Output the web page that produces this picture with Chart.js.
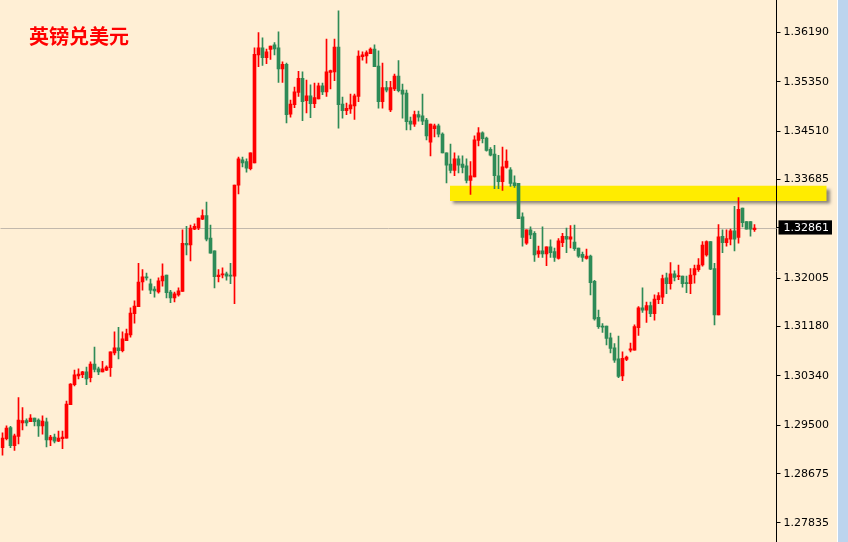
<!DOCTYPE html>
<html>
<head>
<meta charset="utf-8">
<script src="https://cdn.jsdelivr.net/npm/chart.js@4.4.1/dist/chart.umd.min.js"></script>
<style>
  html, body { margin: 0; padding: 0; background: #FFEFD5; }
  #wrap { position: relative; width: 848px; height: 542px; }
  canvas { display: block; }
  #title {
    position: absolute; left: 29px; top: 26px;
    font-family: "Noto Sans CJK SC", sans-serif; font-weight: bold;
    font-size: 20px; line-height: 20px; color: #FF0000;
  }
</style>
</head>
<body>
<div id="wrap">
  <canvas id="chart" width="848" height="542"></canvas>
  <div id="title">英镑兑美元</div>
</div>
<script>
// GBP/USD candles, oldest first
var opens = [
  1.2912, 1.2927, 1.2946, 1.2915, 1.2931, 1.2954, 1.2958, 1.2956, 1.2962, 1.2959,
  1.2949, 1.2956, 1.2925, 1.2930, 1.2923, 1.2927, 1.2928, 1.2985, 1.3019, 1.3034,
  1.3036, 1.3041, 1.3031, 1.3054, 1.3046, 1.3041, 1.3044, 1.3048, 1.3073, 1.3082,
  1.3077, 1.3094, 1.3104, 1.3140, 1.3152, 1.3194, 1.3203, 1.3191, 1.3182, 1.3177,
  1.3196, 1.3206, 1.3177, 1.3167, 1.3172, 1.3178, 1.3260, 1.3257, 1.3284, 1.3286,
  1.3301, 1.3307, 1.3269, 1.3247, 1.3203, 1.3206, 1.3208, 1.3206, 1.3204, 1.3359,
  1.3402, 1.3399, 1.3387, 1.3397, 1.3581, 1.3593, 1.3576, 1.3590, 1.3598, 1.3593,
  1.3557, 1.3565, 1.3480, 1.3496, 1.3517, 1.3541, 1.3503, 1.3511, 1.3498, 1.3506,
  1.3528, 1.3518, 1.3551, 1.3552, 1.3594, 1.3497, 1.3486, 1.3489, 1.3494, 1.3510,
  1.3578, 1.3579, 1.3583, 1.3591, 1.3562, 1.3501, 1.3525, 1.3487, 1.3523, 1.3545,
  1.3521, 1.3516, 1.3468, 1.3463, 1.3479, 1.3477, 1.3470, 1.3432, 1.3455, 1.3460,
  1.3446, 1.3414, 1.3395, 1.3384, 1.3404, 1.3395, 1.3392, 1.3367, 1.3373, 1.3435,
  1.3448, 1.3439, 1.3420, 1.3412, 1.3375, 1.3365, 1.3389, 1.3385, 1.3363, 1.3362,
  1.3305, 1.3260, 1.3283, 1.3277, 1.3242, 1.3247, 1.3242, 1.3254, 1.3246, 1.3234,
  1.3261, 1.3272, 1.3267, 1.3262, 1.3252, 1.3241, 1.3234, 1.3238, 1.3195, 1.3134,
  1.3119, 1.3119, 1.3099, 1.3082, 1.3063, 1.3034, 1.3062, 1.3078, 1.3078, 1.3116,
  1.3150, 1.3146, 1.3154, 1.3140, 1.3164, 1.3168, 1.3201, 1.3191, 1.3208, 1.3203,
  1.3204, 1.3193, 1.3191, 1.3206, 1.3215, 1.3223, 1.3240, 1.3263, 1.3217, 1.3138,
  1.3272, 1.3261, 1.3267, 1.3281, 1.3270, 1.3320, 1.3297, 1.3297, 1.3283
]
var highs = [
  1.2937, 1.2949, 1.2948, 1.2935, 1.2997, 1.2980, 1.2961, 1.2968, 1.2962, 1.2961,
  1.2966, 1.2962, 1.2933, 1.2935, 1.2940, 1.2940, 1.2991, 1.3021, 1.3044, 1.3046,
  1.3042, 1.3049, 1.3058, 1.3083, 1.3049, 1.3059, 1.3051, 1.3075, 1.3109, 1.3117,
  1.3109, 1.3114, 1.3150, 1.3162, 1.3226, 1.3215, 1.3209, 1.3199, 1.3186, 1.3201,
  1.3225, 1.3206, 1.3180, 1.3177, 1.3184, 1.3283, 1.3289, 1.3291, 1.3293, 1.3303,
  1.3317, 1.3330, 1.3291, 1.3247, 1.3215, 1.3218, 1.3211, 1.3226, 1.3359, 1.3407,
  1.3407, 1.3404, 1.3414, 1.3593, 1.3619, 1.3610, 1.3591, 1.3596, 1.3602, 1.3620,
  1.3569, 1.3567, 1.3504, 1.3526, 1.3553, 1.3552, 1.3538, 1.3530, 1.3533, 1.3533,
  1.3533, 1.3608, 1.3555, 1.3608, 1.3656, 1.3509, 1.3499, 1.3514, 1.3514, 1.3588,
  1.3586, 1.3588, 1.3593, 1.3598, 1.3588, 1.3567, 1.3536, 1.3536, 1.3548, 1.3571,
  1.3531, 1.3521, 1.3475, 1.3485, 1.3485, 1.3514, 1.3473, 1.3463, 1.3463, 1.3463,
  1.3448, 1.3414, 1.3429, 1.3414, 1.3409, 1.3409, 1.3404, 1.3399, 1.3443, 1.3457,
  1.3450, 1.3441, 1.3423, 1.3427, 1.3410, 1.3424, 1.3419, 1.3389, 1.3375, 1.3362,
  1.3312, 1.3283, 1.3288, 1.3280, 1.3255, 1.3288, 1.3254, 1.3266, 1.3252, 1.3268,
  1.3277, 1.3286, 1.3290, 1.3291, 1.3252, 1.3245, 1.3250, 1.3240, 1.3197, 1.3146,
  1.3123, 1.3119, 1.3107, 1.3089, 1.3102, 1.3075, 1.3068, 1.3090, 1.3121, 1.3152,
  1.3184, 1.3160, 1.3160, 1.3172, 1.3176, 1.3206, 1.3209, 1.3227, 1.3213, 1.3223,
  1.3204, 1.3204, 1.3217, 1.3223, 1.3234, 1.3263, 1.3264, 1.3263, 1.3226, 1.3292,
  1.3283, 1.3283, 1.3284, 1.3323, 1.3338, 1.3320, 1.3297, 1.3297, 1.3292
]
var lows = [
  1.2899, 1.2925, 1.2912, 1.2907, 1.2918, 1.2942, 1.2949, 1.2956, 1.2949, 1.2931,
  1.2935, 1.2913, 1.2915, 1.2920, 1.2922, 1.2910, 1.2928, 1.2985, 1.3017, 1.3029,
  1.3031, 1.3019, 1.3024, 1.3041, 1.3036, 1.3041, 1.3043, 1.3033, 1.3070, 1.3063,
  1.3075, 1.3094, 1.3100, 1.3124, 1.3152, 1.3180, 1.3197, 1.3174, 1.3168, 1.3175,
  1.3187, 1.3167, 1.3159, 1.3160, 1.3170, 1.3178, 1.3240, 1.3230, 1.3283, 1.3283,
  1.3300, 1.3264, 1.3243, 1.3184, 1.3194, 1.3201, 1.3197, 1.3191, 1.3157, 1.3344,
  1.3390, 1.3381, 1.3385, 1.3397, 1.3561, 1.3563, 1.3566, 1.3573, 1.3581, 1.3534,
  1.3534, 1.3465, 1.3475, 1.3491, 1.3510, 1.3469, 1.3482, 1.3474, 1.3491, 1.3506,
  1.3513, 1.3510, 1.3523, 1.3537, 1.3456, 1.3473, 1.3479, 1.3481, 1.3471, 1.3501,
  1.3572, 1.3567, 1.3583, 1.3561, 1.3490, 1.3490, 1.3518, 1.3484, 1.3520, 1.3518,
  1.3473, 1.3453, 1.3453, 1.3459, 1.3468, 1.3462, 1.3436, 1.3409, 1.3441, 1.3441,
  1.3414, 1.3363, 1.3380, 1.3375, 1.3380, 1.3380, 1.3363, 1.3343, 1.3373, 1.3426,
  1.3431, 1.3417, 1.3409, 1.3353, 1.3353, 1.3350, 1.3388, 1.3357, 1.3355, 1.3302,
  1.3255, 1.3258, 1.3268, 1.3229, 1.3236, 1.3236, 1.3222, 1.3236, 1.3229, 1.3233,
  1.3254, 1.3244, 1.3252, 1.3248, 1.3236, 1.3229, 1.3233, 1.3172, 1.3129, 1.3115,
  1.3108, 1.3087, 1.3073, 1.3057, 1.3031, 1.3026, 1.3060, 1.3075, 1.3078, 1.3103,
  1.3142, 1.3125, 1.3135, 1.3129, 1.3157, 1.3157, 1.3174, 1.3182, 1.3196, 1.3198,
  1.3185, 1.3176, 1.3174, 1.3192, 1.3212, 1.3221, 1.3238, 1.3215, 1.3121, 1.3138,
  1.3244, 1.3255, 1.3257, 1.3247, 1.3260, 1.3288, 1.3284, 1.3272, 1.3280
]
var closes = [
  1.2928, 1.2945, 1.2915, 1.2932, 1.2959, 1.2958, 1.2954, 1.2962, 1.2956, 1.2949,
  1.2957, 1.2925, 1.2930, 1.2923, 1.2928, 1.2930, 1.2986, 1.3020, 1.3036, 1.3037,
  1.3041, 1.3029, 1.3054, 1.3045, 1.3041, 1.3046, 1.3049, 1.3075, 1.3082, 1.3077,
  1.3097, 1.3106, 1.3141, 1.3153, 1.3194, 1.3203, 1.3201, 1.3180, 1.3179, 1.3196,
  1.3204, 1.3176, 1.3167, 1.3174, 1.3179, 1.3260, 1.3257, 1.3286, 1.3289, 1.3303,
  1.3307, 1.3267, 1.3243, 1.3203, 1.3206, 1.3208, 1.3204, 1.3204, 1.3359, 1.3404,
  1.3397, 1.3388, 1.3414, 1.3582, 1.3593, 1.3576, 1.3586, 1.3596, 1.3591, 1.3557,
  1.3565, 1.3479, 1.3497, 1.3518, 1.3541, 1.3501, 1.3511, 1.3498, 1.3508, 1.3528,
  1.3518, 1.3552, 1.3554, 1.3594, 1.3496, 1.3486, 1.3490, 1.3496, 1.3511, 1.3579,
  1.3581, 1.3585, 1.3591, 1.3561, 1.3501, 1.3525, 1.3521, 1.3525, 1.3545, 1.3520,
  1.3514, 1.3467, 1.3463, 1.3479, 1.3475, 1.3468, 1.3443, 1.3463, 1.3460, 1.3446,
  1.3414, 1.3393, 1.3384, 1.3404, 1.3393, 1.3389, 1.3367, 1.3375, 1.3436, 1.3448,
  1.3438, 1.3418, 1.3410, 1.3375, 1.3365, 1.3390, 1.3400, 1.3362, 1.3358, 1.3302,
  1.3270, 1.3283, 1.3274, 1.3240, 1.3247, 1.3242, 1.3254, 1.3244, 1.3236, 1.3264,
  1.3272, 1.3267, 1.3271, 1.3251, 1.3238, 1.3236, 1.3238, 1.3193, 1.3131, 1.3118,
  1.3117, 1.3098, 1.3081, 1.3061, 1.3033, 1.3064, 1.3066, 1.3080, 1.3118, 1.3150,
  1.3146, 1.3154, 1.3140, 1.3165, 1.3171, 1.3200, 1.3191, 1.3208, 1.3202, 1.3205,
  1.3191, 1.3191, 1.3206, 1.3217, 1.3223, 1.3257, 1.3263, 1.3216, 1.3138, 1.3271,
  1.3261, 1.3268, 1.3281, 1.3267, 1.3318, 1.3295, 1.3284, 1.3284, 1.3286
]
// empty slots to the right of the last candle
var emptySlots = 5
var tickValues = [1.36190, 1.35350, 1.34510, 1.33685, 1.32861, 1.32005, 1.31180, 1.30340, 1.29500, 1.28675, 1.27835]
var lastPrice = 1.32861
var axisMin = 1.27511
var axisMax = 1.36744
// highlighted resistance band
var zoneStart = 112
var zoneTop = 1.3358
var zoneBottom = 1.3332

var UP = '#FF0000'
var DOWN = '#2E8B57'
var BG = '#FFEFD5'

var labels = []
for (var i = 0; i < opens.length + emptySlots; i++) {
  labels.push(String(i + 1))
}
var wicks = highs.map((h, i) => [lows[i], h])
var bodies = opens.map((o, i) => [o, closes[i]])
var candleColors = closes.map((c, i) => c >= opens[i] ? UP : DOWN)

var overlayPlugin = {
  id: 'overlay',
  beforeDraw(chart) {
    var ctx = chart.ctx
    ctx.save()
    ctx.fillStyle = BG
    ctx.fillRect(0, 0, chart.width, chart.height)
    ctx.fillStyle = '#FFFFFF'
    ctx.fillRect(837, 0, 1, chart.height)
    ctx.fillStyle = '#BCD4EE'
    ctx.fillRect(838, 0, 10, chart.height)
    ctx.restore()
  },
  beforeDatasetsDraw(chart) {
    var ctx = chart.ctx
    var area = chart.chartArea
    var x = chart.scales.x
    var y = chart.scales.y
    ctx.save()
    // current price line
    var py = Math.round(y.getPixelForValue(lastPrice)) + 0.5
    ctx.strokeStyle = '#C2B8AC'
    ctx.lineWidth = 1
    ctx.beginPath()
    ctx.moveTo(area.left, py)
    ctx.lineTo(area.right, py)
    ctx.stroke()
    // yellow band with its shadow, runs into the price axis
    var top = y.getPixelForValue(zoneTop)
    var bottom = y.getPixelForValue(zoneBottom)
    var left = x.getPixelForValue(zoneStart) - 0.5
    var right = area.right + 50
    ctx.shadowColor = 'rgba(60, 60, 60, 0.6)'
    ctx.shadowOffsetX = 3
    ctx.shadowOffsetY = 3
    ctx.shadowBlur = 3
    ctx.fillStyle = '#FFEC00'
    ctx.fillRect(left, top, right - left, bottom - top)
    ctx.shadowColor = 'rgba(0, 0, 0, 0)'
    // axis line stays on top of the band
    ctx.fillStyle = '#000000'
    ctx.fillRect(Math.round(area.right - 0.5), top - 4, 1, bottom - top + 8)
    ctx.restore()
  }
}

var isLast = (c) => c.tick && Math.abs(c.tick.value - lastPrice) < 1e-7

new Chart(document.getElementById('chart'), {
  type: 'bar',
  data: {
    labels: labels,
    datasets: [{
      label: 'wick',
      data: wicks,
      backgroundColor: candleColors,
      barThickness: 1,
      grouped: false,
      borderWidth: 0
    }, {
      label: 'body',
      data: bodies,
      backgroundColor: candleColors,
      barThickness: 3,
      minBarLength: 1,
      grouped: false,
      borderWidth: 0
    }]
  },
  options: {
    responsive: false,
    animation: false,
    layout: {
      padding: { left: 0.5, top: 0, right: 0, bottom: 0 }
    },
    plugins: {
      legend: { display: false },
      tooltip: { enabled: false }
    },
    scales: {
      x: {
        type: 'category',
        display: false,
        offset: true
      },
      y: {
        position: 'right',
        min: axisMin,
        max: axisMax,
        afterBuildTicks: (scale) => {
          scale.ticks = tickValues.map((v) => ({ value: v }))
        },
        afterFit: (scale) => {
          scale.width = 71.5
          scale.paddingTop = 0
          scale.paddingBottom = 0
        },
        grid: {
          drawOnChartArea: false,
          tickLength: 4,
          color: '#000000'
        },
        border: { color: '#000000', width: 1 },
        ticks: {
          padding: 3,
          font: { family: 'DejaVu Sans', size: 11 },
          color: (c) => isLast(c) ? '#FFFFFF' : '#000000',
          showLabelBackdrop: true,
          backdropColor: (c) => isLast(c) ? '#000000' : 'rgba(0,0,0,0)',
          backdropPadding: { left: 5, right: 3, top: 1, bottom: 0 },
          callback: (v) => v.toFixed(5)
        }
      }
    }
  },
  plugins: [overlayPlugin]
})
</script>
</body>
</html>
